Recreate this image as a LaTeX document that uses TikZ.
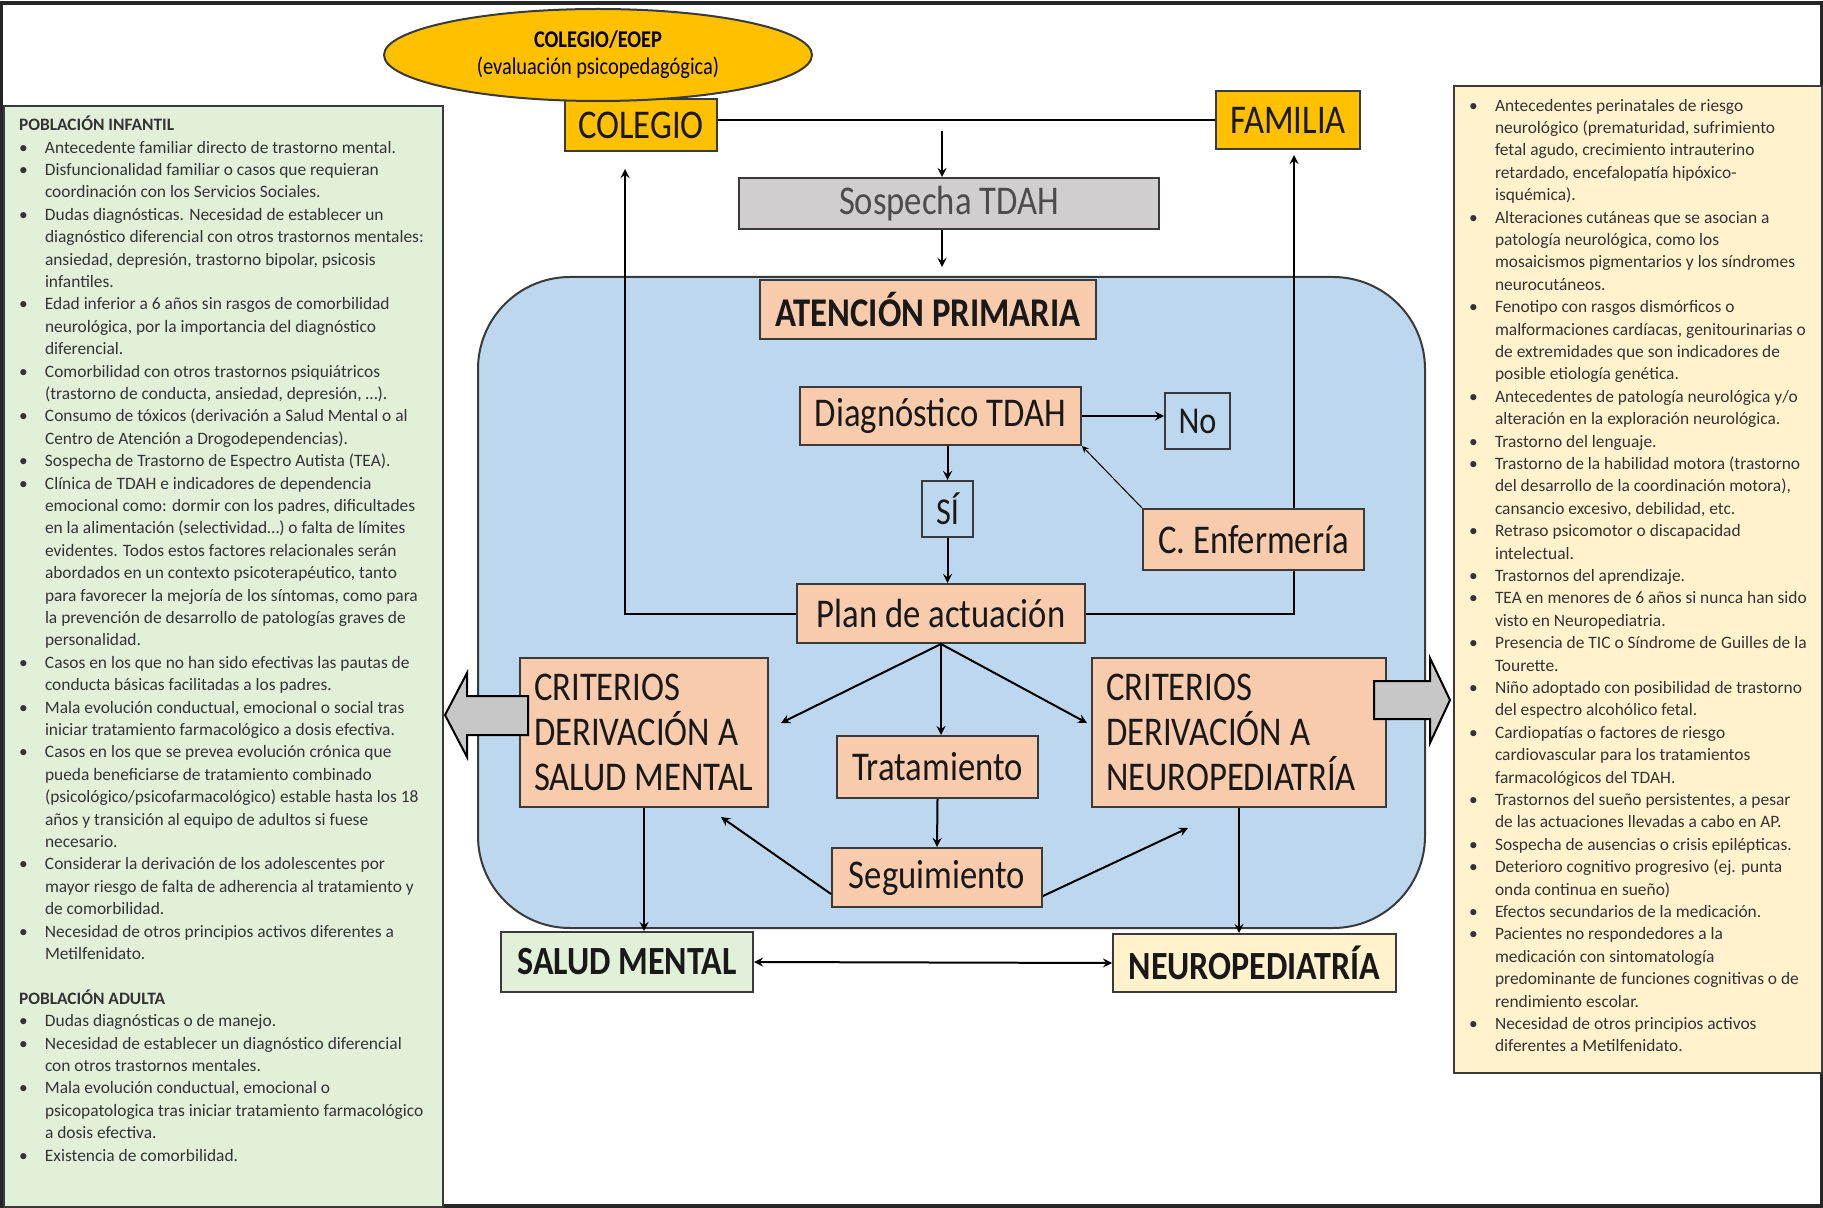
\documentclass[tikz,border=0pt]{standalone}
\usepackage{fontspec}
\setmainfont{Carlito}
\newfontfamily\boxfont[FakeStretch=0.85]{Carlito}
\usepackage{tikz}
\usetikzlibrary{calc, shapes.geometric, arrows}

\definecolor{naranja}{HTML}{FFC000}
\definecolor{salmon}{HTML}{F8CBAD}
\definecolor{azul}{HTML}{BDD7EE}
\definecolor{gris}{HTML}{D0CECE}
\definecolor{verde}{HTML}{E2F0D9}
\definecolor{amarillo}{HTML}{FFF2CC}
\definecolor{borde}{HTML}{3A3A3A}

\newcommand{\vineta}{\makebox[13pt][l]{\textbullet}}
\newcommand{\sigue}{\hspace*{13pt}}

\begin{document}
\begin{tikzpicture}[
    x=0.5pt, y=-0.5pt,
    >=stealth,
    line width=1pt,
    caja/.style={draw=borde, fill=salmon, inner sep=0pt, align=center, text=black!90,
                 font=\boxfont\fontsize{20.4}{22.4}\selectfont},
    criterio/.style={caja, align=flush left, inner xsep=7pt, minimum height=74.5pt},
    lateral/.style={draw=borde, line width=1.2pt, inner sep=0pt, anchor=north west},
    listado/.style={anchor=north west, inner sep=0pt, align=left, text=black!80,
                 font=\fontsize{8.7}{11.2}\selectfont},
    bloque/.style={draw=black, fill=black!22, line width=1pt, line join=miter}
]

\useasboundingbox (0,0) rectangle (1823,1208);
\draw[line width=2pt, black!85] (1,3) rectangle (1822,1206);

% columnas laterales
\node (infbox) [lateral, fill=verde, minimum width=219.5pt, minimum height=550.5pt] at (3,105) {};
\node (inftext) [listado] at (18,115) {\textbf{POBLACIÓN INFANTIL}\\
\vineta Antecedente familiar directo de trastorno mental.\\
\vineta Disfuncionalidad familiar o casos que requieran\\
\sigue coordinación con los Servicios Sociales.\\
\vineta Dudas diagnósticas. Necesidad de establecer un\\
\sigue diagnóstico diferencial con otros trastornos mentales:\\
\sigue ansiedad, depresión, trastorno bipolar, psicosis\\
\sigue infantiles.\\
\vineta Edad inferior a 6 años sin rasgos de comorbilidad\\
\sigue neurológica, por la importancia del diagnóstico\\
\sigue diferencial.\\
\vineta Comorbilidad con otros trastornos psiquiátricos\\
\sigue (trastorno de conducta, ansiedad, depresión, …).\\
\vineta Consumo de tóxicos (derivación a Salud Mental o al\\
\sigue Centro de Atención a Drogodependencias).\\
\vineta Sospecha de Trastorno de Espectro Autista (TEA).\\
\vineta Clínica de TDAH e indicadores de dependencia\\
\sigue emocional como: dormir con los padres, dificultades\\
\sigue en la alimentación (selectividad…) o falta de límites\\
\sigue evidentes. Todos estos factores relacionales serán\\
\sigue abordados en un contexto psicoterapéutico, tanto\\
\sigue para favorecer la mejoría de los síntomas, como para\\
\sigue la prevención de desarrollo de patologías graves de\\
\sigue personalidad.\\
\vineta Casos en los que no han sido efectivas las pautas de\\
\sigue conducta básicas facilitadas a los padres.\\
\vineta Mala evolución conductual, emocional o social tras\\
\sigue iniciar tratamiento farmacológico a dosis efectiva.\\
\vineta Casos en los que se prevea evolución crónica que\\
\sigue pueda beneficiarse de tratamiento combinado\\
\sigue (psicológico/psicofarmacológico) estable hasta los 18\\
\sigue años y transición al equipo de adultos si fuese\\
\sigue necesario.\\
\vineta Considerar la derivación de los adolescentes por\\
\sigue mayor riesgo de falta de adherencia al tratamiento y\\
\sigue de comorbilidad.\\
\vineta Necesidad de otros principios activos diferentes a\\
\sigue Metilfenidato.\\
\mbox{}\\
\textbf{POBLACIÓN ADULTA}\\
\vineta Dudas diagnósticas o de manejo.\\
\vineta Necesidad de establecer un diagnóstico diferencial\\
\sigue con otros trastornos mentales.\\
\vineta Mala evolución conductual, emocional o\\
\sigue psicopatologica tras iniciar tratamiento farmacológico\\
\sigue a dosis efectiva.\\
\vineta Existencia de comorbilidad.};

\node (neubox) [lateral, fill=amarillo, minimum width=184pt, minimum height=493.5pt] at (1453,85) {};
\node (neutext) [listado] at (1468,98) {\vineta Antecedentes perinatales de riesgo\\
\sigue neurológico (prematuridad, sufrimiento\\
\sigue fetal agudo, crecimiento intrauterino\\
\sigue retardado, encefalopatía hipóxico-\\
\sigue isquémica).\\
\vineta Alteraciones cutáneas que se asocian a\\
\sigue patología neurológica, como los\\
\sigue mosaicismos pigmentarios y los síndromes\\
\sigue neurocutáneos.\\
\vineta Fenotipo con rasgos dismórficos o\\
\sigue malformaciones cardíacas, genitourinarias o\\
\sigue de extremidades que son indicadores de\\
\sigue posible etiología genética.\\
\vineta Antecedentes de patología neurológica y/o\\
\sigue alteración en la exploración neurológica.\\
\vineta Trastorno del lenguaje.\\
\vineta Trastorno de la habilidad motora (trastorno\\
\sigue del desarrollo de la coordinación motora),\\
\sigue cansancio excesivo, debilidad, etc.\\
\vineta Retraso psicomotor o discapacidad\\
\sigue intelectual.\\
\vineta Trastornos del aprendizaje.\\
\vineta TEA en menores de 6 años si nunca han sido\\
\sigue visto en Neuropediatria.\\
\vineta Presencia de TIC o Síndrome de Guilles de la\\
\sigue Tourette.\\
\vineta Niño adoptado con posibilidad de trastorno\\
\sigue del espectro alcohólico fetal.\\
\vineta Cardiopatías o factores de riesgo\\
\sigue cardiovascular para los tratamientos\\
\sigue farmacológicos del TDAH.\\
\vineta Trastornos del sueño persistentes, a pesar\\
\sigue de las actuaciones llevadas a cabo en AP.\\
\vineta Sospecha de ausencias o crisis epilépticas.\\
\vineta Deterioro cognitivo progresivo (ej. punta\\
\sigue onda continua en sueño)\\
\vineta Efectos secundarios de la medicación.\\
\vineta Pacientes no respondedores a la\\
\sigue medicación con sintomatología\\
\sigue predominante de funciones cognitivas o de\\
\sigue rendimiento escolar.\\
\vineta Necesidad de otros principios activos\\
\sigue diferentes a Metilfenidato.};

% atencion primaria
\node (ap) [draw=borde, fill=azul, rounded corners=46pt, minimum width=473.5pt, minimum height=325.5pt,
            inner sep=0pt, anchor=north west] at (477,276) {};
\node (plan) [caja, minimum width=144pt, minimum height=29.5pt] at (941,613.5) {Plan de actuación};

\coordinate (retcol) at (625,169);
\coordinate (retfam) at (1294,155);
\draw[->] (plan.west) -| (retcol);
\draw[->] (plan.east) -| (retfam);

\node (colegio)  [caja, fill=naranja, minimum width=76pt, minimum height=26pt] at (641,125) {COLEGIO};
\node (familia)  [caja, fill=naranja, minimum width=72pt, minimum height=29pt] at (1288,120) {FAMILIA};
\node (eoep)     [ellipse, draw=borde, fill=naranja, minimum width=214pt, minimum height=46pt, inner sep=0pt,
                  align=center, font=\boxfont\fontsize{12}{13.4}\selectfont] at (598,55)
                  {\textbf{COLEGIO/EOEP}\\(evaluación psicopedagógica)};
\node (sospecha) [caja, fill=gris, text=black!70, minimum width=210pt, minimum height=25.5pt] at (949,203.5) {Sospecha TDAH};
\node (atencion) [caja, font=\boxfont\bfseries\fontsize{20.4}{22.4}\selectfont,
                  minimum width=168pt, minimum height=29.5pt] at (928,309.5) {ATENCIÓN PRIMARIA};
\node (diag)     [caja, minimum width=140.5pt, minimum height=29pt] at (940.5,416) {Diagnóstico TDAH};
\node (no)       [caja, fill=azul, font=\boxfont\fontsize{19}{21}\selectfont,
                  minimum width=32.5pt, minimum height=28pt] at (1197.5,421) {No};
\node (si)       [caja, fill=azul, font=\boxfont\fontsize{19}{21}\selectfont,
                  minimum width=25.5pt, minimum height=28pt] at (947.5,509) {SÍ};
\node (enf)      [caja, minimum width=110.5pt, minimum height=30.5pt] at (1253.5,539.5) {C. Enfermería};
\node (critsm)   [criterio, text width=110pt] at (644,732.5) {CRITERIOS\\DERIVACIÓN A\\SALUD MENTAL};
\node (critnp)   [criterio, text width=133pt] at (1239,732.5) {CRITERIOS\\DERIVACIÓN A\\NEUROPEDIATRÍA};
\node (trat)     [caja, minimum width=100.5pt, minimum height=31pt] at (937.5,767) {Tratamiento};
\node (seg)      [caja, minimum width=105pt, minimum height=29.5pt] at (937,877.5) {Seguimiento};
\node (salud)    [caja, fill=verde, font=\boxfont\bfseries\fontsize{20}{22}\selectfont,
                  minimum width=126pt, minimum height=30pt] at (627,962) {SALUD MENTAL};
\node (neuro)    [caja, fill=amarillo, font=\boxfont\bfseries\fontsize{20}{22}\selectfont,
                  minimum width=141.5pt, minimum height=29pt] at (1254.5,963) {NEUROPEDIATRÍA};

% flechas
\coordinate (bifur) at (942,131);
\draw (familia.west -| colegio.east) -- (familia.west);
\draw[->] (bifur) -- (bifur |- sospecha.north);
\draw[->, shorten >=4.5pt] (bifur |- sospecha.south) -- (bifur |- ap.north);

\draw[->] (diag.east) -- (diag.east -| no.west);
\draw[->] (diag.south -| si.north) -- (si.north);
\draw[->] (si.south) -- (si.south |- plan.north);
\draw[->, line width=0.5pt] (enf.north west) -- (diag.south east);

\coordinate (haciasm) at (781,723);
\coordinate (hacianp) at (1087,723);
\draw[->] (plan.south) -- (haciasm);
\draw[->] (plan.south) -- (plan.south |- trat.north);
\draw[->] (plan.south) -- (hacianp);
\draw[->] (trat.south) -- (seg.north);

\coordinate (volvsm) at (721,817);
\coordinate (volvnp) at (1188,828);
\draw[->] ($(seg.south west)+(0,-14)$) -- (volvsm);
\draw[->] ($(seg.south east)+(0,-12)$) -- (volvnp);

\draw[->] (critsm.south) -- (critsm.south |- salud.north);
\draw[->] (critnp.south) -- (critnp.south |- neuro.north);
\draw[<->] (salud.east) -- (neuro.west);

% flechas de bloque hacia los criterios
\draw[bloque] (528,696) -- (467,696) -- (467,673) -- (445,715) -- (467,757) -- (467,735) -- (528,735) -- cycle;
\draw[bloque] (1374,681) -- (1430,681) -- (1430,658) -- (1450,700) -- (1430,743) -- (1430,719) -- (1374,719) -- cycle;

\end{tikzpicture}
\end{document}
